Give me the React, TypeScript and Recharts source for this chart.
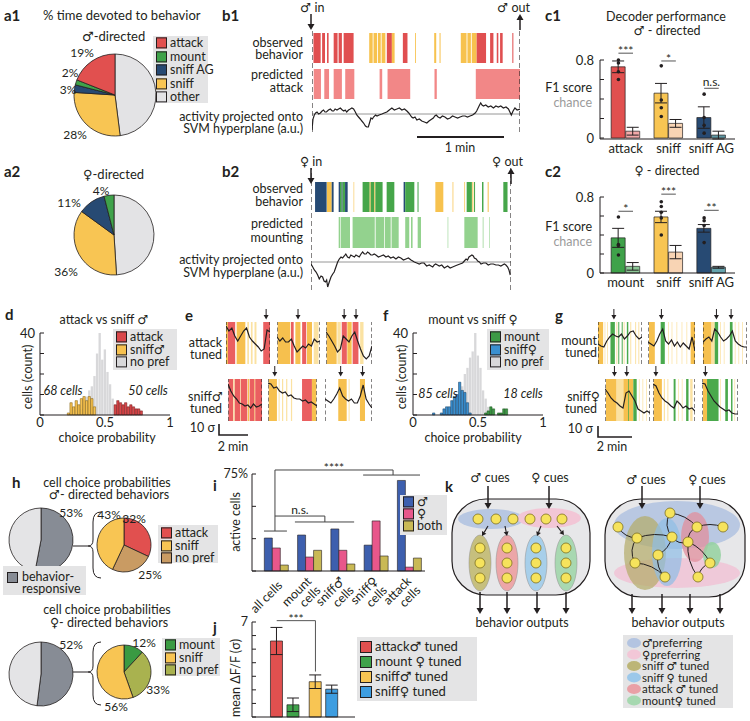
import React from "react";
import {
  PieChart,
  Pie,
  Cell,
  ComposedChart,
  Bar,
  Line,
  Scatter,
  XAxis,
  YAxis,
  ErrorBar,
  ReferenceArea,
  ReferenceLine,
  ReferenceDot,
} from "recharts";

const FONT = "Lato, 'Open Sans', 'DejaVu Sans', sans-serif";
const INK = "#231f20";
const BOX = "#e4e4e5";

// ---------- a: % time devoted to behavior (clockwise from 12 o'clock)
const A1_NAMES = ["other", "sniff", "sniff AG", "mount", "attack"];
const A1_PCT = [48, 28, 3, 2, 19];
const A2_NAMES = ["other", "sniff", "sniff AG", "mount"];
const A2_PCT = [49, 36, 11, 4];

// ---------- b: ethograms [start s, end s, behavior], traces [t s, a.u.]
const B1_OBSERVED: [number, number, string][] = [
  [1, 6, "a"], [7, 9, "a"], [10.4, 11.5, "a"], [15, 17.7, "a"], [18.4, 20.7, "a"], [21.9, 28.8, "a"],
  [39.6, 42, "s"], [42.6, 45, "s"], [45.6, 47.6, "s"], [48.2, 50.8, "s"], [51.8, 55.3, "a"], [55.3, 57.2, "s"],
  [62.9, 66.1, "a"], [71.4, 72, "s"], [84.6, 86, "s"], [88.3, 89, "s"], [103, 107, "s"], [107.6, 110, "s"],
  [110.6, 114, "s"], [114, 120.5, "a"], [123.3, 125.6, "a"], [127.9, 129, "a"], [130.2, 132, "a"], [138.7, 139.4, "a"],
];
const B1_PREDICTED: [number, number][] = [
  [1.2, 6.2], [8.5, 11.8], [15, 20.7], [23, 29.3], [46.8, 48.6], [52.3, 68], [84.8, 86.4], [113.4, 144],
];
const B1_TRACE: [number, number][] = [
  [0, -16], [0.7, -5], [1.6, -1], [2.5, 1], [3.5, 2], [4.6, 0], [5.8, 1], [7, 3], [8, 4], [9, 2], [10, 2],
  [11.4, 4], [12.7, 5], [14, 3], [15, 3], [16, 5], [17.3, 4], [18.4, 5], [19.6, 6], [21, 4], [22, 3], [23, 4],
  [24, 2], [25.3, 4], [26.5, 5], [27.6, 6], [28.8, 5], [30, 2], [31, -1], [32.2, -3], [33.4, -5], [34.5, -7],
  [35.7, -9], [37, -12], [38, -13], [39, -13], [40, -8], [40.8, -4], [41.8, -5], [42.6, -3], [44, -1], [45, -2],
  [46.5, -1], [48.4, 0], [50, 1], [51.8, 2], [53.5, 4], [55.3, 6], [57, 4], [58.8, 5], [60.5, 6], [62.2, 4],
  [64, 5], [65.7, 3], [67, 1], [68, -1], [69, -3], [70, -4], [71.3, -3], [72.6, -6], [74.3, -5], [76, -7],
  [77.8, -8], [79.5, -9], [81, -7], [82, -6], [83, -5], [84, -4], [85, -2], [86, -1], [87.3, -3], [88.7, -4],
  [90.3, -2], [92, -3], [93.8, -5], [95.6, -4], [97.3, -2], [99, -3], [100.8, -4], [102.5, -3], [104.3, -2],
  [106, -2], [107.6, -3], [109.4, -2], [111.2, -1], [113, 1], [114, 3], [115, 6], [116, 9], [116.8, 11],
  [117.7, 9], [118.7, 8], [120.3, 9], [122, 7], [123.8, 8], [125.6, 6], [127.3, 8], [129, 7], [130.7, 8],
  [132.5, 6], [134.3, 7], [136, 5], [137, 2], [138, -1], [139.2, 3], [140.5, 6], [142, 4], [144, 5],
];
const B2_OBSERVED: [number, number, string][] = [
  [2.8, 10.8, "ag"], [11, 14.3, "s"], [14.3, 15.6, "ag"], [19.1, 20, "ag"], [20, 21.2, "g"], [21.2, 21.8, "ag"],
  [21.8, 23.5, "g"], [23.5, 25.3, "ag"], [29.4, 29.8, "s"], [35.6, 40.5, "g"], [40.5, 41.2, "s"], [41.2, 43.7, "g"],
  [43.7, 44.4, "s"], [44.4, 49.4, "g"], [52.2, 57.5, "g"], [63.9, 65, "ag"], [65, 71.3, "g"], [73.5, 74.2, "g"],
  [85.8, 91.3, "s"], [97.7, 98.2, "s"], [105.8, 106.3, "s"], [107.4, 111, "g"], [111.3, 112, "s"], [112.5, 113.2, "g"],
  [118, 119, "g"], [121.9, 122.6, "s"], [132.7, 135.6, "g"],
];
const B2_PREDICTED: [number, number][] = [
  [19.1, 20.2], [20.6, 26.9], [28.7, 44], [44.6, 50.5], [51, 55], [55.6, 60.5], [65, 67.8], [69, 70.1],
  [73.6, 75.9], [94.3, 94.7], [105.8, 115], [118.5, 119], [123, 123.4],
];
const B2_TRACE: [number, number][] = [
  [0, -2], [1.2, -5], [2.3, -8], [3.5, -10], [4.6, -13], [5.7, -17], [6.9, -14], [8, -15], [9, -19], [10, -20],
  [10.8, -18], [11.5, -25], [12.6, -20], [13.8, -15], [15, -12], [16, -10], [17.2, -5], [18.4, 0], [19.5, 3],
  [20.7, 5], [21.8, 4], [23, 6], [24, 8], [25.2, 5], [26.4, 4], [27.5, 7], [28.7, 6], [30, 5], [31, 7], [32.2, 6],
  [33.3, 5], [34.5, 8], [35.6, 10], [36.8, 8], [38, 8], [39, 10], [40, 9], [41.3, 7], [42.5, 7], [43.6, 8],
  [44.8, 7], [46.5, 5], [48.3, 6], [50, 7], [51.7, 5], [53.3, 6], [55, 4], [56.8, 5], [58.6, 3], [60.3, 5],
  [62, 4], [63.8, 2], [65.5, 3], [67.2, 4], [69, 2], [70.2, 1], [71.3, 0], [73, -1], [74.7, -2], [76.3, -1],
  [78, -1], [79.8, -4], [81.6, -3], [82.8, -4], [84, -5], [85, -3], [86, -2], [87.3, -3], [88.5, -4], [90.2, -3],
  [92, -6], [93.1, -5], [94.3, -4], [96, -6], [97.7, -5], [99.3, -4], [101, -3], [102.8, -2], [104.6, -1],
  [105.8, 1], [107, 3], [108, 2], [109, 5], [110, 6], [111, 7], [112, 6], [112.7, 4], [114, 3], [115, 1],
  [116.2, 0], [117.3, -2], [119, -1], [120.7, -1], [122.3, -3], [124, -2], [125.8, -2], [127.6, -3], [129.3, -3],
  [131, -4], [132.2, -3], [133.4, -2], [134.5, -3], [135.7, -5], [136.6, -8], [137.5, -13],
];

// ---------- c: decoder performance (F1)
const C1_CATS = ["attack", "sniff", "sniff AG"];
const C1_F1 = [0.73, 0.46, 0.21];
const C1_F1_SEM = [0.06, 0.1, 0.11];
const C1_CHANCE = [0.07, 0.15, 0.03];
const C1_CHANCE_SEM = [0.04, 0.04, 0.04];
const C1_MICE = [[0.8, 0.77, 0.68, 0.6], [0.74, 0.39, 0.31, 0.22], [0.45, 0.21, 0.13, 0.05]];
const C1_SIG = ["***", "*", "n.s."];
const C2_CATS = ["mount", "sniff", "sniff AG"];
const C2_F1 = [0.37, 0.59, 0.47];
const C2_F1_SEM = [0.1, 0.06, 0.04];
const C2_CHANCE = [0.07, 0.22, 0.06];
const C2_CHANCE_SEM = [0.04, 0.07, 0.01];
const C2_MICE = [[0.59, 0.3, 0.29, 0.19], [0.75, 0.7, 0.64, 0.58, 0.4], [0.58, 0.55, 0.5, 0.32]];
const C2_SIG = ["*", "***", "**"];

// ---------- d / f: choice-probability histograms
const HIST_BINS = [
  0.16, 0.18, 0.2, 0.22, 0.24, 0.26, 0.28, 0.3, 0.32, 0.34, 0.36, 0.38, 0.4, 0.42, 0.44, 0.46, 0.48,
  0.5, 0.52, 0.54, 0.56, 0.58, 0.6, 0.62, 0.64, 0.66, 0.68, 0.7, 0.72, 0.74, 0.76, 0.78, 0.8,
];
const D_NOPREF = [0, 0, 0, 0, 0, 0, 0, 1, 3, 5, 9, 12, 14, 19, 30, 40, 27, 32, 21, 15, 8, 4, 2, 0, 0, 0, 0, 0, 0, 0, 0, 0, 0];
const D_SNIFF = [0, 0, 0, 1, 6, 4, 7, 5, 8, 9, 7, 9, 8, 4, 0, 0, 0, 0, 0, 0, 0, 0, 0, 0, 0, 0, 0, 0, 0, 0, 0, 0, 0];
const D_ATTACK = [0, 0, 0, 0, 0, 0, 0, 0, 0, 0, 0, 0, 0, 0, 0, 0, 0, 0, 0, 0, 0, 5, 7, 6, 5, 6, 4, 5, 4, 3, 3, 2, 0];
const F_NOPREF = [0, 0, 0, 0, 0, 0, 0, 0, 0, 4, 8, 14, 20, 23, 28, 31, 40, 29, 23, 12, 8, 4, 2, 0, 0, 0, 0, 0, 0, 0, 0, 0, 0];
const F_SNIFF = [1, 0, 0, 1, 3, 4, 4, 7, 9, 10, 16, 12, 11, 6, 1, 0, 0, 0, 0, 0, 0, 0, 0, 0, 0, 0, 0, 0, 0, 0, 0, 0, 0];
const F_MOUNT = [0, 0, 0, 0, 0, 0, 0, 0, 0, 0, 0, 0, 0, 0, 0, 0, 0, 0, 0, 0, 1, 2, 4, 3, 0, 1, 1, 3, 3, 0, 0, 0, 0];

// ---------- e / g: example cells, stripes [start s, end s, kind], traces sampled evenly over DUR
const E_DUR = [182, 178, 190, 141, 203, 195];
const E_STRIPES: [number, number, string][][] = [
  [[0, 8, "y"], [8, 38, "r"], [44, 80, "y"], [88, 95, "ly"], [103, 110, "ly"], [118, 126, "ly"], [154, 182, "r"]],
  [[3, 55, "y"], [58, 69, "r"], [76, 97, "y"], [104, 121, "r"], [124, 145, "y"], [152, 172, "ly"]],
  [[3, 44, "y"], [47, 61, "ly"], [65, 86, "r"], [88, 106, "y"], [110, 134, "r"], [141, 155, "ly"]],
  [[2, 22, "r"], [22, 28, "ly"], [28, 50, "r"], [50, 53, "ly"], [53, 80, "r"], [82, 88, "y"], [90, 110, "r"], [110, 113, "y"], [113, 141, "r"]],
  [[3, 37, "y"], [44, 48, "ly"], [58, 63, "ly"], [75, 80, "ly"], [95, 100, "ly"], [141, 182, "r"], [182, 200, "y"]],
  [[55, 90, "y"], [98, 102, "ly"], [145, 166, "y"]],
];
const E_TRACES = [
  [38, 33, 36, 28, 23, 28, 33, 36, 27, 23, 20, 17, 13, 15, 34, 32],
  [27, 23, 26, 22, 22, 25, 18, 12, 15, 18, 16, 20, 18, 25, 22, 23],
  [32, 28, 23, 18, 12, 15, 28, 25, 22, 28, 32, 23, 15, 8, 5, 8, 18],
  [37, 30, 25, 22, 18, 17, 15, 16, 13, 17, 14, 15, 17],
  [38, 37, 33, 34, 30, 28, 29, 25, 26, 23, 22, 22, 20, 21, 18, 19, 17, 15],
  [22, 20, 18, 22, 27, 33, 25, 22, 20, 22, 18, 18, 25, 36, 22, 17, 13],
];
const E_ARROWS = [[166], [87], [75, 124], [], [28], [65, 156]];

const G_DUR = [180, 193, 180, 186, 175, 150];
const G_STRIPES: [number, number, string][][] = [
  [[0, 21, "y"], [27, 30, "ly"], [37, 40, "ly"], [51, 69, "g"], [75, 79, "ly"], [83, 87, "g"], [97, 101, "g"], [105, 109, "ly"], [118, 124, "g"], [132, 136, "ly"], [152, 156, "ly"], [165, 169, "ly"]],
  [[4, 28, "y"], [52, 69, "g"], [83, 86, "ly"], [97, 100, "ly"], [117, 120, "ly"], [138, 141, "ly"], [158, 161, "ly"], [175, 193, "y"]],
  [[0, 35, "y"], [35, 48, "ly"], [48, 62, "g"], [70, 73, "ly"], [85, 88, "ly"], [110, 121, "g"], [130, 133, "ly"], [145, 148, "ly"], [160, 163, "ly"]],
  [[4, 48, "y"], [48, 76, "ly"], [76, 117, "y"], [96, 99, "g"], [117, 131, "g"], [140, 143, "ly"], [155, 158, "ly"], [170, 173, "ly"]],
  [[3, 37, "y"], [45, 50, "ly"], [60, 64, "ly"], [86, 94, "g"], [105, 108, "ly"], [120, 123, "ly"], [138, 148, "g"], [155, 165, "ly"]],
  [[4, 21, "y"], [21, 69, "g"], [75, 78, "ly"], [97, 108, "g"], [121, 127, "g"], [135, 138, "ly"]],
];
const G_TRACES = [
  [20, 18, 17, 23, 27, 30, 28, 27, 30, 25, 28, 32, 33, 28, 25, 27],
  [22, 20, 18, 23, 30, 35, 23, 20, 24, 18, 22, 17, 21, 18, 15, 27, 13],
  [22, 25, 27, 23, 35, 32, 27, 23, 25, 28, 33, 23, 20, 18, 17, 17],
  [32, 28, 23, 20, 18, 15, 13, 28, 30, 25, 20, 12, 10, 8, 10, 8],
  [37, 35, 28, 23, 20, 18, 15, 13, 20, 17, 13, 15, 12, 13, 10],
  [38, 37, 30, 25, 20, 17, 14, 12, 10, 11, 8, 7, 7],
];
const G_ARROWS = [[65], [55], [55, 115], [39, 90], [12], [14]];

// ---------- h: cell choice probabilities (clockwise from 12 o'clock)
const H1_RESP = [53, 47];
const H1_SPLIT_NAMES = ["attack", "no pref", "sniff"];
const H1_SPLIT = [32, 25, 43];
const H2_RESP = [52, 48];
const H2_SPLIT_NAMES = ["mount", "no pref", "sniff"];
const H2_SPLIT = [12, 33, 56];

// ---------- i: active cells (%)
const I_TICKS = [["all cells"], ["mount", "cells"], ["sniff♂", "cells"], ["sniff♀", "cells"], ["attack", "cells"]];
const I_MALE = [25.5, 27.8, 32.5, 20, 70];
const I_FEMALE = [17.8, 10.8, 16, 38.7, 3];
const I_BOTH = [4.6, 16, 5.4, 11.6, 10];

// ---------- j: mean dF/F (sigma)
const J_LABELS = ["attack♂ tuned", "mount ♀ tuned", "sniff♂ tuned", "sniff♀ tuned"];
const J_MEAN = [5.6, 0.9, 2.6, 2.05];
const J_SEM = [1.0, 0.5, 0.5, 0.3];

// ---------- colours
const COL = {
  attack: "#e1504f",
  mount: "#3fa24a",
  sniffAG: "#274a73",
  sniff: "#f8c553",
  other: "#e3e3e5",
  predAttack: "#f28787",
  predMount: "#93d28e",
};
const A_COLORS: Record<string, string> = {
  other: COL.other,
  sniff: COL.sniff,
  "sniff AG": COL.sniffAG,
  mount: COL.mount,
  attack: COL.attack,
};
const BEH: Record<string, string> = { a: "#e04f50", s: "#f7c24e", ag: "#264a74", g: "#46a64a" };
const STRIPE: Record<string, string> = { r: "#ea5f60", y: "#f6c04e", ly: "#fbe2a2", g: "#4aa94c" };
const H_COLORS: Record<string, string> = {
  attack: COL.attack,
  sniff: COL.sniff,
  "no pref": "#c99b63",
  mount: "#3a9a42",
};
const H2_NOPREF = "#a9b24f";
const I_COL = { m: "#3d5fae", f: "#e8578b", b: "#c9b955" };
const J_COL = ["#e1504f", "#3fa24a", "#f8c553", "#3d9de0"];

// ---------- small helpers
type TxtProps = {
  x: number;
  y: number;
  children: React.ReactNode;
  size?: number;
  align?: "l" | "c" | "r";
  color?: string;
  bold?: boolean;
  italic?: boolean;
  rotate?: number;
};

function Txt({ x, y, children, size = 12.5, align = "l", color = INK, bold, italic, rotate }: TxtProps) {
  const tx = align === "l" ? "0" : align === "c" ? "-50%" : "-100%";
  return (
    <div
      style={{
        position: "absolute",
        left: x,
        top: y,
        transform: `translate(${tx}, -50%)${rotate ? ` rotate(${rotate}deg)` : ""}`,
        fontSize: size,
        lineHeight: 0.9,
        whiteSpace: "nowrap",
        color,
        fontWeight: bold ? 700 : 400,
        fontStyle: italic ? "italic" : "normal",
      }}
    >
      {children}
    </div>
  );
}

function Key({
  x, y, w, h, items, first, step, size = 12, sw = 11, pad = 3,
}: {
  x: number; y: number; w: number; h: number; items: [string, string][];
  first: number; step: number; size?: number; sw?: number; pad?: number;
}) {
  return (
    <div style={{ position: "absolute", left: x, top: y, width: w, height: h, background: BOX }}>
      {items.map(([label, color], k) => (
        <div
          key={k}
          style={{
            position: "absolute",
            left: pad,
            top: first - y + k * step,
            transform: "translateY(-50%)",
            display: "flex",
            alignItems: "center",
            whiteSpace: "nowrap",
            fontSize: size,
            lineHeight: 0.9,
          }}
        >
          <span
            style={{
              display: "inline-block",
              width: sw,
              height: sw,
              background: color,
              border: `1px solid ${INK}`,
              boxSizing: "border-box",
              marginRight: 3,
            }}
          />
          {label}
        </div>
      ))}
    </div>
  );
}

function MiniPie({ cx, cy, r, values, colors }: { cx: number; cy: number; r: number; values: number[]; colors: string[] }) {
  const data = values.map((v, i) => ({ v, i }));
  const s = 2 * r + 4;
  return (
    <div style={{ position: "absolute", left: cx - s / 2, top: cy - s / 2 }}>
      <PieChart width={s} height={s} margin={{ top: 0, right: 0, bottom: 0, left: 0 }}>
        <Pie
          data={data}
          dataKey="v"
          cx="50%"
          cy="50%"
          outerRadius={r}
          startAngle={90}
          endAngle={-270}
          stroke={INK}
          strokeWidth={0.8}
          isAnimationActive={false}
        >
          {data.map((d) => (
            <Cell key={d.i} fill={colors[d.i]} />
          ))}
        </Pie>
      </PieChart>
    </div>
  );
}

function Ethogram({
  x, y, w, h, dur, yDom, obs, obsY, pred, predY, predColor, trace,
}: {
  x: number; y: number; w: number; h: number; dur: number; yDom: [number, number];
  obs: [number, number, string][]; obsY: [number, number]; pred: [number, number][];
  predY: [number, number]; predColor: string; trace: [number, number][];
}) {
  const rows = trace.map(([t, v]) => ({ t, v }));
  return (
    <div style={{ position: "absolute", left: x, top: y }}>
      <ComposedChart width={w} height={h} data={rows} margin={{ top: 0, right: 0, left: 0, bottom: 0 }}>
        <XAxis type="number" dataKey="t" domain={[0, dur]} hide allowDataOverflow />
        <YAxis type="number" domain={yDom} hide allowDataOverflow />
        {obs.map(([a, b, k], i) => (
          <ReferenceArea key={`o${i}`} x1={a} x2={b} y1={obsY[0]} y2={obsY[1]} fill={BEH[k]} fillOpacity={1} stroke="none" />
        ))}
        {pred.map(([a, b], i) => (
          <ReferenceArea key={`p${i}`} x1={a} x2={b} y1={predY[0]} y2={predY[1]} fill={predColor} fillOpacity={1} stroke="none" />
        ))}
        <ReferenceLine y={0} stroke="#8a8a8a" strokeWidth={0.9} />
        <ReferenceLine x={0} stroke={INK} strokeWidth={1.1} strokeDasharray="5 3" />
        <ReferenceLine x={dur} stroke={INK} strokeWidth={1.1} strokeDasharray="5 3" />
        <Line dataKey="v" stroke={INK} strokeWidth={1.2} dot={false} isAnimationActive={false} />
      </ComposedChart>
    </div>
  );
}

function TraceSeg({
  x, y, w, h, dur, stripes, trace, arrows,
}: {
  x: number; y: number; w: number; h: number; dur: number;
  stripes: [number, number, string][]; trace: number[]; arrows: number[];
}) {
  const n = trace.length;
  const rows = trace.map((v, i) => ({ t: (i * dur) / (n - 1), v }));
  const head = 14;
  return (
    <div style={{ position: "absolute", left: x, top: y - head }}>
      <ComposedChart width={w} height={h + head} data={rows} margin={{ top: head, right: 0, left: 0, bottom: 0 }}>
        <XAxis type="number" dataKey="t" domain={[0, dur]} hide allowDataOverflow />
        <YAxis type="number" domain={[0, h]} hide allowDataOverflow />
        {stripes.map(([a, b, k], i) => (
          <ReferenceArea key={i} x1={a} x2={b} fill={STRIPE[k]} fillOpacity={1} stroke="none" />
        ))}
        <ReferenceLine x={0} stroke={INK} strokeWidth={1.1} strokeDasharray="4 2.5" />
        <ReferenceLine x={dur} stroke={INK} strokeWidth={1.1} strokeDasharray="4 2.5" />
        <Line dataKey="v" stroke={INK} strokeWidth={1.2} dot={false} isAnimationActive={false} />
        {arrows.map((t, i) => (
          <ReferenceDot
            key={`a${i}`}
            x={t}
            y={h}
            r={0}
            ifOverflow="visible"
            shape={(p: any) => (
              <g>
                <line x1={p.cx} y1={p.cy - 13} x2={p.cx} y2={p.cy - 6} stroke={INK} strokeWidth={1} />
                <path d={`M${p.cx - 2.5},${p.cy - 7} L${p.cx + 2.5},${p.cy - 7} L${p.cx},${p.cy - 2.5} Z`} fill={INK} />
              </g>
            )}
          />
        ))}
      </ComposedChart>
    </div>
  );
}

function Decoder({
  top, plotH, cats, f1, f1Sem, chance, chanceSem, mice, sig, sigY, fills, chanceFills,
}: {
  top: number; plotH: number; cats: string[]; f1: number[]; f1Sem: number[]; chance: number[];
  chanceSem: number[]; mice: number[][]; sig: string[]; sigY: number[]; fills: string[]; chanceFills: string[];
}) {
  const rows = cats.flatMap((_, i) => [
    { x: i + 1 - 0.17, v: f1[i], e: f1Sem[i], fill: fills[i] },
    { x: i + 1 + 0.17, v: chance[i], e: chanceSem[i], fill: chanceFills[i] },
  ]);
  const dots = mice.flatMap((arr, i) => arr.map((v) => ({ x: i + 1 - 0.17, v })));
  return (
    <div style={{ position: "absolute", left: 560, top }}>
      <ComposedChart width={185} height={plotH + 40} data={rows} margin={{ top: 20, right: 10, left: 0, bottom: 0 }}>
        <XAxis
          type="number"
          dataKey="x"
          domain={[0.4, 3.55]}
          ticks={[1, 2, 3]}
          interval={0}
          tickFormatter={(v: number) => cats[v - 1]}
          tickLine={false}
          tickSize={0}
          tickMargin={5}
          height={20}
          axisLine={{ stroke: INK }}
          tick={{ fontSize: 13, fill: INK }}
        />
        <YAxis
          type="number"
          domain={[0, 0.8]}
          ticks={[0, 0.2, 0.4, 0.6, 0.8]}
          interval={0}
          tickFormatter={(v: number) => (v === 0 ? "0" : v === 0.8 ? "0.8" : "")}
          width={40}
          tickSize={-4}
          tickMargin={10}
          axisLine={{ stroke: INK }}
          tickLine={{ stroke: INK }}
          tick={{ fontSize: 13, fill: INK }}
        />
        <Bar dataKey="v" barSize={14} stroke={INK} strokeWidth={0.7} isAnimationActive={false}>
          {rows.map((r, k) => (
            <Cell key={k} fill={r.fill} />
          ))}
          <ErrorBar dataKey="e" width={6} stroke={INK} strokeWidth={1} direction="y" />
        </Bar>
        <Scatter
          data={dots}
          dataKey="v"
          isAnimationActive={false}
          shape={(p: any) => <circle cx={p.cx} cy={p.cy} r={1.8} fill={INK} />}
        />
        {sig.map((s, i) => (
          <ReferenceLine
            key={i}
            segment={[{ x: i + 1 - 0.17, y: sigY[i] }, { x: i + 1 + 0.17, y: sigY[i] }]}
            stroke="#555"
            strokeWidth={1}
            ifOverflow="visible"
            label={{ value: s, position: "top", offset: s === "n.s." ? 2 : -2, fontSize: 12, fill: INK }}
          />
        ))}
      </ComposedChart>
    </div>
  );
}

function Histogram({
  left, nopref, a, aFill, aStroke, b, bFill, bStroke,
}: {
  left: number; nopref: number[]; a: number[]; aFill: string; aStroke: string;
  b: number[]; bFill: string; bStroke: string;
}) {
  const rows = HIST_BINS.map((x, i) => ({
    x,
    np: nopref[i] || null,
    a: a[i] || null,
    b: b[i] || null,
  }));
  return (
    <div style={{ position: "absolute", left, top: 323 }}>
      <ComposedChart width={165} height={110} data={rows} margin={{ top: 10, right: 5, left: 0, bottom: 0 }} barGap={0}>
        <XAxis
          xAxisId="np"
          type="number"
          dataKey="x"
          domain={[0, 1]}
          ticks={[0, 0.5, 1]}
          interval={0}
          tickFormatter={(v: number) => String(v)}
          tickLine={false}
          tickSize={0}
          tickMargin={3}
          height={18}
          axisLine={{ stroke: INK }}
          tick={{ fontSize: 13, fill: INK }}
        />
        <XAxis xAxisId="sel" type="number" dataKey="x" domain={[0, 1]} hide />
        <YAxis
          type="number"
          domain={[0, 40]}
          ticks={[0, 10, 20, 30, 40]}
          interval={0}
          tickFormatter={(v: number) => (v === 40 ? "40" : "")}
          width={30}
          tickSize={-4}
          tickMargin={9}
          axisLine={{ stroke: INK }}
          tickLine={{ stroke: INK }}
          tick={{ fontSize: 13, fill: INK }}
        />
        <Bar xAxisId="np" dataKey="np" fill="#d8d8da" barSize={2.6} isAnimationActive={false} />
        <Bar xAxisId="sel" dataKey="b" stackId="s" fill={bFill} stroke={bStroke} strokeWidth={0.5} barSize={2.6} isAnimationActive={false} />
        <Bar xAxisId="sel" dataKey="a" stackId="s" fill={aFill} stroke={aStroke} strokeWidth={0.5} barSize={2.6} isAnimationActive={false} />
      </ComposedChart>
    </div>
  );
}

function ITick({ x, y, payload }: any) {
  const lines = I_TICKS[payload.value - 1] || [];
  const base = lines.length === 1 ? 6 : 0;
  return (
    <g transform={`translate(${x + 3 + base * 0.7},${y + 9 + base * 0.7}) rotate(-45)`}>
      {lines.map((l, k) => (
        <text key={k} x={0} y={k * 13} textAnchor="end" fontSize={12.5} fill={INK}>
          {l}
        </text>
      ))}
    </g>
  );
}

function arrow(x1: number, y1: number, x2: number, y2: number, key: string, head = 3.5, sw = 1.5) {
  const ang = Math.atan2(y2 - y1, x2 - x1);
  const bx = x2 - head * 1.7 * Math.cos(ang);
  const by = y2 - head * 1.7 * Math.sin(ang);
  const px = -Math.sin(ang) * head;
  const py = Math.cos(ang) * head;
  return (
    <g key={key}>
      <line x1={x1} y1={y1} x2={bx} y2={by} stroke={INK} strokeWidth={sw} />
      <path d={`M${x2},${y2} L${bx + px},${by + py} L${bx - px},${by - py} Z`} fill={INK} />
    </g>
  );
}

const CIRCLE = { fill: "#f6e35c", stroke: "#7d7020", strokeWidth: 0.8 };

function Schematics() {
  // left: segregated populations
  const topRow = [478, 496, 513, 530, 546, 562];
  const pools: [number, string][] = [
    [480, "#c6bf7e"],
    [507, "#eca6a8"],
    [536, "#a7cfea"],
    [566, "#a8d8b1"],
  ];
  // right: mixed populations
  const nodes = [
    [618, 527], [637, 538], [670, 513], [672, 537], [697, 527], [723, 527],
    [688, 542], [658, 555], [635, 563], [665, 577], [698, 577], [710, 563],
  ];
  const links = [
    [0, 1, 6], [1, 3, -6], [1, 8, 8], [2, 4, -6], [2, 3, 8], [4, 5, -5], [4, 6, 6],
    [6, 11, -6], [6, 10, 7], [3, 7, -5], [7, 9, 6], [8, 9, -7], [11, 10, 5], [3, 6, 6],
  ];
  return (
    <svg width={750} height={721} style={{ position: "absolute", left: 0, top: 0, pointerEvents: "none" }}>
      {/* b scale bar and in/out arrows */}
      <line x1={417} y1={137} x2={504} y2={137} stroke={INK} strokeWidth={2} />
      {arrow(311, 14, 311, 30, "b1in")}
      {arrow(520, 30, 520, 14, "b1out")}
      {arrow(311, 168, 311, 184, "b2in")}
      {arrow(511, 184, 511, 168, "b2out")}
      {/* e / g scale bars */}
      <path d="M219,424 L219,435 L248,435" fill="none" stroke={INK} strokeWidth={1.6} />
      <path d="M598,426 L598,437 L632,437" fill="none" stroke={INK} strokeWidth={1.6} />
      {/* h connectors and braces */}
      <line x1={73} y1={546} x2={88} y2={546} stroke={INK} strokeWidth={1} />
      <path d="M101,512 Q93,512 93,522 L93,540 Q93,546 88,546 Q93,546 93,552 L93,568 Q93,578 101,578" fill="none" stroke={INK} strokeWidth={1} />
      <line x1={73} y1={672} x2={88} y2={672} stroke={INK} strokeWidth={1} />
      <path d="M101,642 Q93,642 93,652 L93,666 Q93,672 88,672 Q93,672 93,678 L93,695 Q93,705 101,705" fill="none" stroke={INK} strokeWidth={1} />

      {/* k left */}
      <rect x={452} y={499} width={138} height={96} rx={34} fill="#e7e7e9" stroke={INK} strokeWidth={1.2} />
      <ellipse cx={491} cy={519} rx={33} ry={10} fill="#b7c7e2" />
      <ellipse cx={549} cy={518} rx={32} ry={10} fill="#f2c6d6" />
      {topRow.map((cx) => (
        <circle key={`t${cx}`} cx={cx} cy={519} r={5} {...CIRCLE} />
      ))}
      {pools.map(([cx, f]) => (
        <g key={`p${cx}`}>
          <ellipse cx={cx} cy={563} rx={11} ry={28} fill={f} stroke="#8f8f8f" strokeWidth={0.5} />
          {[548, 563, 578].map((cy) => (
            <circle key={cy} cx={cx} cy={cy} r={5} {...CIRCLE} />
          ))}
        </g>
      ))}
      {arrow(488, 526, 482, 536, "ka1", 2.5, 1.1)}
      {arrow(505, 526, 507, 536, "ka2", 2.5, 1.1)}
      {arrow(541, 526, 537, 536, "ka3", 2.5, 1.1)}
      {arrow(557, 526, 564, 535, "ka4", 2.5, 1.1)}
      {arrow(488, 486, 488, 509, "kin1")}
      {arrow(549, 486, 549, 509, "kin2")}
      {[480, 507, 537, 566].map((x) => arrow(x, 592, x, 614, `ko${x}`))}

      {/* k right */}
      <rect x={605} y={499} width={140} height={98} rx={36} fill="#e7e7e9" stroke={INK} strokeWidth={1.2} />
      <ellipse cx={677} cy={525} rx={63} ry={24} fill="#a9bedf" opacity={0.75} />
      <ellipse cx={677} cy={573} rx={63} ry={15} fill="#f1bfd3" opacity={0.75} />
      <ellipse cx={645} cy={553} rx={21} ry={37} fill="#b3ab66" opacity={0.7} />
      <ellipse cx={667} cy={552} rx={15} ry={34} fill="#8fbde6" opacity={0.7} />
      <ellipse cx={695} cy={537} rx={14} ry={25} fill="#e28f9c" opacity={0.75} />
      <ellipse cx={712} cy={555} rx={9} ry={13} fill="#94d1a0" opacity={0.85} />
      {links.map(([a, b, bend], i) => {
        const [x1, y1] = nodes[a];
        const [x2, y2] = nodes[b];
        const mx = (x1 + x2) / 2;
        const my = (y1 + y2) / 2;
        const len = Math.hypot(x2 - x1, y2 - y1) || 1;
        const qx = mx - ((y2 - y1) / len) * bend;
        const qy = my + ((x2 - x1) / len) * bend;
        return <path key={i} d={`M${x1},${y1} Q${qx},${qy} ${x2},${y2}`} fill="none" stroke={INK} strokeWidth={1} />;
      })}
      {nodes.map(([cx, cy], i) => (
        <circle key={`n${i}`} cx={cx} cy={cy} r={5} {...CIRCLE} />
      ))}
      {arrow(642, 486, 642, 509, "kin3")}
      {arrow(700, 486, 700, 509, "kin4")}
      {[632, 662, 690, 720].map((x) => arrow(x, 594, x, 614, `kr${x}`))}
      {/* k right key */}
      <rect x={623} y={635} width={110} height={73} fill={BOX} />
      {["#b3c4e1", "#f2c7d7", "#bcb577", "#9cc8ea", "#e9a0a6", "#a6d8b0"].map((f, i) => (
        <ellipse key={f} cx={634} cy={643 + i * 11.5} rx={7} ry={5} fill={f} />
      ))}
    </svg>
  );
}

export default function App() {
  const a1Colors = A1_NAMES.map((n) => A_COLORS[n]);
  const a2Colors = A2_NAMES.map((n) => A_COLORS[n]);
  const iRows = I_MALE.map((m, i) => ({ x: i + 1, m, f: I_FEMALE[i], b: I_BOTH[i] }));
  const jRows = J_MEAN.map((v, i) => ({ x: i + 1 + (i >= 2 ? 0.35 : 0), v, e: J_SEM[i], fill: J_COL[i] }));
  const eRowsLayout = [
    { x: 226, y: 322, w: 44 }, { x: 277, y: 322, w: 43 }, { x: 326, y: 322, w: 46 },
    { x: 228, y: 379, w: 34 }, { x: 268, y: 379, w: 49 }, { x: 325, y: 379, w: 47 },
  ];
  const gRowsLayout = [
    { x: 598, y: 322, w: 44 }, { x: 648, y: 322, w: 47 }, { x: 703, y: 322, w: 44 },
    { x: 605, y: 379, w: 45 }, { x: 653, y: 379, w: 42 }, { x: 702, y: 379, w: 36 },
  ];
  const iBrackets: [number, number, number, number, string?][] = [
    [0.64, 30.9, 1.33, 30.9],
    [0.97, 30.9, 0.97, 78.1],
    [0.97, 42.5, 2.47, 42.5, "n.s."],
    [2.47, 42.5, 2.47, 37.9],
    [1.57, 37.9, 3.35, 37.9],
    [0.97, 78.1, 4.52, 78.1, "****"],
    [4.52, 78.1, 4.52, 74.2],
    [3.62, 74.2, 5.33, 74.2],
  ];

  return (
    <div
      style={{
        position: "absolute",
        left: 0,
        top: 0,
        width: 750,
        height: 721,
        background: "#fff",
        fontFamily: FONT,
        color: INK,
        overflow: "hidden",
      }}
    >
      {/* ---------------- a ---------------- */}
      <Txt x={4} y={16} size={15} bold>a1</Txt>
      <Txt x={43} y={16} size={13}>% time devoted to behavior</Txt>
      <Txt x={82} y={37} size={13}>♂-directed</Txt>
      <Key
        x={153} y={36} w={55} h={67} first={43} step={13.5} size={12.5}
        items={[["attack", COL.attack], ["mount", COL.mount], ["sniff AG", COL.sniffAG], ["sniff", COL.sniff], ["other", COL.other]]}
      />
      <MiniPie cx={115} cy={95} r={41} values={A1_PCT} colors={a1Colors} />
      <Txt x={82} y={53} align="c" size={12}>19%</Txt>
      <Txt x={70} y={73} align="c" size={12}>2%</Txt>
      <Txt x={68} y={90} align="c" size={12}>3%</Txt>
      <Txt x={75} y={135} align="c" size={12}>28%</Txt>

      <Txt x={4} y={172} size={15} bold>a2</Txt>
      <Txt x={83} y={175} size={13}>♀-directed</Txt>
      <MiniPie cx={114} cy={235} r={40} values={A2_PCT} colors={a2Colors} />
      <Txt x={101} y={191} align="c" size={12}>4%</Txt>
      <Txt x={69} y={203} align="c" size={12}>11%</Txt>
      <Txt x={66} y={272} align="c" size={12}>36%</Txt>

      {/* ---------------- b ---------------- */}
      <Txt x={222} y={16} size={15} bold>b1</Txt>
      <Txt x={300} y={8}>♂ in</Txt>
      <Txt x={530} y={8} align="r">♂ out</Txt>
      <Txt x={303} y={43} align="r">observed</Txt>
      <Txt x={303} y={55} align="r">behavior</Txt>
      <Txt x={303} y={75} align="r">predicted</Txt>
      <Txt x={303} y={88} align="r">attack</Txt>
      <Txt x={303} y={117} align="r">activity projected onto</Txt>
      <Txt x={303} y={129} align="r">SVM hyperplane (a.u.)</Txt>
      <Ethogram
        x={312} y={28} w={208} h={104} dur={144} yDom={[-18, 86]}
        obs={B1_OBSERVED} obsY={[51, 81]} pred={B1_PREDICTED} predY={[15, 45]}
        predColor={COL.predAttack} trace={B1_TRACE}
      />
      <Txt x={460} y={148} align="c">1 min</Txt>

      <Txt x={222} y={172} size={15} bold>b2</Txt>
      <Txt x={300} y={162}>♀ in</Txt>
      <Txt x={523} y={162} align="r">♀ out</Txt>
      <Txt x={303} y={189} align="r">observed</Txt>
      <Txt x={303} y={202} align="r">behavior</Txt>
      <Txt x={303} y={224} align="r">predicted</Txt>
      <Txt x={303} y={238} align="r">mounting</Txt>
      <Txt x={303} y={260} align="r">activity projected onto</Txt>
      <Txt x={303} y={273} align="r">SVM hyperplane (a.u.)</Txt>
      <Ethogram
        x={311} y={168} w={200} h={122} dur={138} yDom={[-28, 94]}
        obs={B2_OBSERVED} obsY={[50, 80]} pred={B2_PREDICTED} predY={[14, 45]}
        predColor={COL.predMount} trace={B2_TRACE}
      />

      {/* ---------------- c ---------------- */}
      <Txt x={545} y={16} size={15} bold>c1</Txt>
      <Txt x={666} y={17} align="c">Decoder performance</Txt>
      <Txt x={667} y={31} align="c">♂ - directed</Txt>
      <Txt x={592} y={88} align="r">F1 score</Txt>
      <Txt x={592} y={103} align="r" color="#9b9b9b">chance</Txt>
      <Decoder
        top={40} plotH={79} cats={C1_CATS} f1={C1_F1} f1Sem={C1_F1_SEM} chance={C1_CHANCE}
        chanceSem={C1_CHANCE_SEM} mice={C1_MICE} sig={C1_SIG} sigY={[0.87, 0.79, 0.51]}
        fills={[COL.attack, COL.sniff, COL.sniffAG]} chanceFills={["#f2aaa9", "#f8d4b4", "#5f98a4"]}
      />
      <Txt x={545} y={172} size={15} bold>c2</Txt>
      <Txt x={667} y={171} align="c">♀ - directed</Txt>
      <Txt x={592} y={227} align="r">F1 score</Txt>
      <Txt x={592} y={242} align="r" color="#9b9b9b">chance</Txt>
      <Decoder
        top={177} plotH={76} cats={C2_CATS} f1={C2_F1} f1Sem={C2_F1_SEM} chance={C2_CHANCE}
        chanceSem={C2_CHANCE_SEM} mice={C2_MICE} sig={C2_SIG} sigY={[0.65, 0.83, 0.66]}
        fills={[COL.mount, COL.sniff, COL.sniffAG]} chanceFills={["#8cc796", "#f8d4b4", "#66a4ad"]}
      />

      {/* ---------------- d / f ---------------- */}
      <Txt x={5} y={315} size={15} bold>d</Txt>
      <Txt x={104} y={320} align="c">attack vs sniff ♂</Txt>
      <Histogram
        left={10} nopref={D_NOPREF} a={D_ATTACK} aFill="#d9474a" aStroke="#6e1414"
        b={D_SNIFF} bFill="#f6c14f" bStroke="#7a5a10"
      />
      <Key
        x={113} y={329} w={64} h={41} first={337} step={12.5} size={12.5}
        items={[["attack", "#d9474a"], ["sniff♂", "#f6c14f"], ["no pref", "#d8d8da"]]}
      />
      <Txt x={63} y={391} align="c" italic>68 cells</Txt>
      <Txt x={148} y={391} align="c" italic>50 cells</Txt>
      <Txt x={28} y={377} align="c" rotate={-90}>cells (count)</Txt>
      <Txt x={107} y={438} align="c">choice probability</Txt>

      <Txt x={383} y={316} size={15} bold>f</Txt>
      <Txt x={473} y={320} align="c">mount vs sniff ♀</Txt>
      <Histogram
        left={383} nopref={F_NOPREF} a={F_MOUNT} aFill="#3d9a45" aStroke="#174d1b"
        b={F_SNIFF} bFill="#3a90d0" bStroke="#153d60"
      />
      <Key
        x={487} y={329} w={62} h={41} first={337} step={12.5} size={12.5}
        items={[["mount", "#3d9a45"], ["sniff♀", "#3a90d0"], ["no pref", "#d8d8da"]]}
      />
      <Txt x={438} y={394} align="c" italic>85 cells</Txt>
      <Txt x={523} y={394} align="c" italic>18 cells</Txt>
      <Txt x={402} y={377} align="c" rotate={-90}>cells (count)</Txt>
      <Txt x={473} y={438} align="c">choice probability</Txt>

      {/* ---------------- e / g ---------------- */}
      <Txt x={185} y={316} size={15} bold>e</Txt>
      <Txt x={222} y={343} align="r">attack</Txt>
      <Txt x={222} y={355} align="r">tuned</Txt>
      <Txt x={223} y={397} align="r">sniff♂</Txt>
      <Txt x={222} y={409} align="r">tuned</Txt>
      {eRowsLayout.map((L, i) => (
        <TraceSeg key={`e${i}`} x={L.x} y={L.y} w={L.w} h={42} dur={E_DUR[i]} stripes={E_STRIPES[i]} trace={E_TRACES[i]} arrows={E_ARROWS[i]} />
      ))}
      <Txt x={215} y={428} align="r">10 σ</Txt>
      <Txt x={233} y={447} align="c">2 min</Txt>

      <Txt x={555} y={316} size={15} bold>g</Txt>
      <Txt x={597} y={341} align="r">mount</Txt>
      <Txt x={597} y={353} align="r">tuned</Txt>
      <Txt x={600} y={397} align="r">sniff♀</Txt>
      <Txt x={597} y={409} align="r">tuned</Txt>
      {gRowsLayout.map((L, i) => (
        <TraceSeg key={`g${i}`} x={L.x} y={L.y} w={L.w} h={42} dur={G_DUR[i]} stripes={G_STRIPES[i]} trace={G_TRACES[i]} arrows={G_ARROWS[i]} />
      ))}
      <Txt x={593} y={429} align="r">10 σ</Txt>
      <Txt x={612} y={447} align="c">2 min</Txt>

      {/* ---------------- h ---------------- */}
      <Txt x={12} y={483} size={15} bold>h</Txt>
      <Txt x={107} y={483} align="c">cell choice probabilities</Txt>
      <Txt x={109} y={495} align="c">♂- directed behaviors</Txt>
      <MiniPie cx={41} cy={540} r={32} values={H1_RESP} colors={["#878c95", "#e4e4e6"]} />
      <div style={{ position: "absolute", left: 3, top: 566, width: 83, height: 29, background: BOX }} />
      <div style={{ position: "absolute", left: 7, top: 572, width: 11, height: 11, background: "#878c95", border: `1px solid ${INK}`, boxSizing: "border-box" }} />
      <Txt x={22} y={577}>behavior-</Txt>
      <Txt x={22} y={589}>responsive</Txt>
      <MiniPie cx={124} cy={545} r={27} values={H1_SPLIT} colors={H1_SPLIT_NAMES.map((n) => H_COLORS[n])} />
      <Txt x={71} y={513} align="c" size={12}>53%</Txt>
      <Txt x={109} y={515} align="c" size={12}>43%</Txt>
      <Txt x={134} y={519} align="c" size={12}>32%</Txt>
      <Txt x={150} y={575} align="c" size={12}>25%</Txt>
      <Key
        x={158} y={525} w={60} h={38} first={533} step={12.5} size={12.5}
        items={[["attack", COL.attack], ["sniff", COL.sniff], ["no pref", "#c99b63"]]}
      />

      <Txt x={107} y={610} align="c">cell choice probabilities</Txt>
      <Txt x={109} y={623} align="c">♀- directed behaviors</Txt>
      <MiniPie cx={41} cy={674} r={32} values={H2_RESP} colors={["#878c95", "#e4e4e6"]} />
      <MiniPie
        cx={124} cy={672} r={27} values={H2_SPLIT}
        colors={H2_SPLIT_NAMES.map((n) => (n === "no pref" ? H2_NOPREF : H_COLORS[n]))}
      />
      <Txt x={71} y={645} align="c" size={12}>52%</Txt>
      <Txt x={144} y={643} align="c" size={12}>12%</Txt>
      <Txt x={158} y={690} align="c" size={12}>33%</Txt>
      <Txt x={116} y={707} align="c" size={12}>56%</Txt>
      <Key
        x={162} y={638} w={58} h={38} first={645} step={12.5} size={12.5}
        items={[["mount", "#3a9a42"], ["sniff", COL.sniff], ["no pref", H2_NOPREF]]}
      />

      {/* ---------------- i ---------------- */}
      <Txt x={213} y={486} size={15} bold>i</Txt>
      <Txt x={236} y={522} align="c" rotate={-90}>active cells</Txt>
      <div style={{ position: "absolute", left: 212, top: 448 }}>
        <ComposedChart width={218} height={173} data={iRows} margin={{ top: 26, right: 5, left: 0, bottom: 0 }} barGap={0}>
          <XAxis
            type="number"
            dataKey="x"
            domain={[0.28, 5.48]}
            ticks={[1, 2, 3, 4, 5]}
            interval={0}
            tick={(p: any) => <ITick {...p} />}
            tickLine={false}
            tickSize={0}
            height={50}
            axisLine={{ stroke: INK }}
          />
          <YAxis
            type="number"
            domain={[0, 75]}
            ticks={[0, 25, 50, 75]}
            interval={0}
            tickFormatter={(v: number) => (v === 75 ? "75%" : "")}
            width={40}
            tickSize={-4}
            tickMargin={8}
            axisLine={{ stroke: INK }}
            tickLine={{ stroke: INK }}
            tick={{ fontSize: 12.5, fill: INK }}
          />
          <Bar dataKey="m" fill={I_COL.m} stroke={INK} strokeWidth={0.6} barSize={8} isAnimationActive={false} />
          <Bar dataKey="f" fill={I_COL.f} stroke={INK} strokeWidth={0.6} barSize={8} isAnimationActive={false} />
          <Bar dataKey="b" fill={I_COL.b} stroke={INK} strokeWidth={0.6} barSize={8} isAnimationActive={false} />
          {iBrackets.map(([x1, y1, x2, y2, lab], k) => (
            <ReferenceLine
              key={k}
              segment={[{ x: x1, y: y1 }, { x: x2, y: y2 }]}
              stroke="#444"
              strokeWidth={1}
              ifOverflow="visible"
              label={lab ? { value: lab, position: "top", offset: lab === "n.s." ? 2 : -2, fontSize: 12, fill: INK } : undefined}
            />
          ))}
        </ComposedChart>
      </div>
      <Key
        x={400} y={495} w={47} h={40} first={502} step={12} size={12.5}
        items={[["♂", I_COL.m], ["♀", I_COL.f], ["both", I_COL.b]]}
      />

      {/* ---------------- j ---------------- */}
      <Txt x={213} y={628} size={15} bold>j</Txt>
      <Txt x={236} y={678} align="c" rotate={-90}>mean ΔF/F (σ)</Txt>
      <div style={{ position: "absolute", left: 212, top: 612 }}>
        <ComposedChart width={148} height={109} data={jRows} margin={{ top: 10, right: 5, left: 0, bottom: 0 }}>
          <XAxis type="number" dataKey="x" domain={[-0.5, 5.75]} tick={false} tickLine={false} height={4} axisLine={{ stroke: INK }} />
          <YAxis
            type="number"
            domain={[0, 7]}
            ticks={[0, 1, 2, 3, 4, 5, 6, 7]}
            interval={0}
            tickFormatter={(v: number) => (v === 7 ? "7" : "")}
            width={40}
            tickSize={-4}
            tickMargin={8}
            axisLine={{ stroke: INK }}
            tickLine={{ stroke: INK }}
            tick={{ fontSize: 12.5, fill: INK }}
          />
          <Bar dataKey="v" barSize={12} stroke={INK} strokeWidth={0.7} isAnimationActive={false}>
            {jRows.map((r, k) => (
              <Cell key={k} fill={r.fill} />
            ))}
            <ErrorBar dataKey="e" width={6} stroke={INK} strokeWidth={1} direction="y" />
          </Bar>
          <ReferenceLine
            segment={[{ x: 1, y: 7.1 }, { x: 3.35, y: 7.1 }]}
            stroke="#555"
            ifOverflow="visible"
            label={{ value: "***", position: "top", offset: -2, fontSize: 12, fill: INK }}
          />
          <ReferenceLine segment={[{ x: 3.35, y: 7.1 }, { x: 3.35, y: 3.35 }]} stroke="#555" ifOverflow="visible" />
        </ComposedChart>
      </div>
      <Key
        x={357} y={637} w={120} h={64} first={647} step={15} size={13} sw={12}
        items={J_LABELS.map((l, i) => [l, J_COL[i]] as [string, string])}
      />

      {/* ---------------- k ---------------- */}
      <Schematics />
      <Txt x={445} y={487} size={15} bold>k</Txt>
      <Txt x={490} y={478} align="c">♂ cues</Txt>
      <Txt x={550} y={478} align="c">♀ cues</Txt>
      <Txt x={522} y={623} align="c">behavior outputs</Txt>
      <Txt x={646} y={480} align="c">♂ cues</Txt>
      <Txt x={707} y={480} align="c">♀ cues</Txt>
      <Txt x={678} y={623} align="c">behavior outputs</Txt>
      {["♂preferring", "♀preferring", "sniff ♂ tuned", "sniff ♀ tuned", "attack ♂ tuned", "mount♀ tuned"].map((t, i) => (
        <Txt key={t} x={642} y={643 + i * 11.5} size={11.5}>{t}</Txt>
      ))}
    </div>
  );
}
